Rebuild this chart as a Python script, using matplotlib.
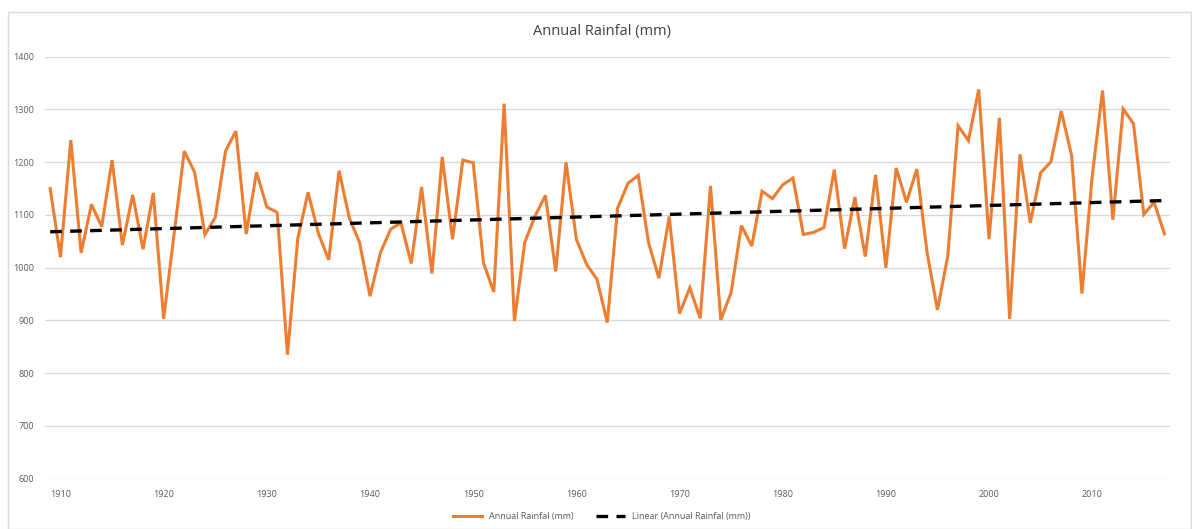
import numpy as np
import matplotlib.pyplot as plt
from matplotlib.patches import Rectangle

plt.rcParams['font.family'] = ['Open Sans', 'DejaVu Sans']

years = np.arange(1909, 2018)
rainfall = [
    1150, 1020, 1242, 1028, 1120, 1078, 1204, 1043, 1138, 1035,  # 1909-1918
    1142, 903, 1062, 1221, 1181, 1063, 1095, 1221, 1259, 1064,   # 1919-1928
    1181, 1115, 1105, 835, 1055, 1143, 1065, 1015, 1184, 1094,   # 1929-1938
    1047, 946, 1028, 1073, 1085, 1008, 1153, 989, 1210, 1054,    # 1939-1948
    1204, 1199, 1009, 954, 1311, 899, 1048, 1098, 1137, 993,     # 1949-1958
    1200, 1054, 1006, 978, 896, 1113, 1160, 1175, 1047, 980,     # 1959-1968
    1097, 913, 962, 904, 1155, 901, 953, 1080, 1041, 1145,       # 1969-1978
    1131, 1157, 1170, 1063, 1067, 1076, 1186, 1036, 1134, 1021,  # 1979-1988
    1176, 1000, 1189, 1124, 1187, 1028, 920, 1022, 1269, 1241,   # 1989-1998
    1338, 1054, 1284, 903, 1215, 1085, 1180, 1201, 1297, 1213,   # 1999-2008
    951, 1174, 1336, 1091, 1301, 1273, 1101, 1124, 1064,         # 2009-2017
]
x_ticks = np.arange(1910, 2020, 10)
y_ticks = np.arange(600, 1500, 100)

# linear trend, like Excel's trendline
slope, intercept = np.polyfit(years, rainfall, 1)
trend = slope * years + intercept

fig = plt.figure(figsize=(11.92, 5.29), dpi=100)
ax = fig.add_axes([45 / 1192, 1 - 478.7 / 529, (1169.6 - 45) / 1192, (478.7 - 56.7) / 529])

ax.plot(years, rainfall, color='#ED7D31', lw=2.2, label='Annual Rainfal (mm)',
        solid_joinstyle='miter', zorder=3)
ax.plot(years, trend, color='black', lw=2.4, ls=(0, (3.5, 2.5)),
        label='Linear (Annual Rainfal (mm))', zorder=4)

ax.set_xlim(1908.5, 2017.5)
ax.set_ylim(600, 1400)
ax.set_xticks(x_ticks)
ax.set_yticks(y_ticks)
ax.tick_params(length=0, labelsize=6.5, colors='#595959', pad=8)
ax.grid(axis='y', color='#D9D9D9', lw=1)
ax.set_axisbelow(True)
for s in ax.spines.values():
    s.set_visible(False)

fig.text(0.505, 1 - 32 / 529, 'Annual Rainfal (mm)', ha='center', va='center',
         fontsize=10.5, color='#404040')

leg = fig.legend(loc='center', bbox_to_anchor=(0.505, 1 - 517 / 529), ncol=2,
                 frameon=False, fontsize=6.5, handlelength=3.2, columnspacing=2.5)
for t in leg.get_texts():
    t.set_color('#595959')

fig.patches.append(Rectangle((8 / 1192, 0), 1 - 8 / 1192 - 0.001, 1 - 12 / 529,
                             transform=fig.transFigure, fill=False,
                             edgecolor='#D9D9D9', lw=1))

plt.savefig('out.png', dpi=100)
